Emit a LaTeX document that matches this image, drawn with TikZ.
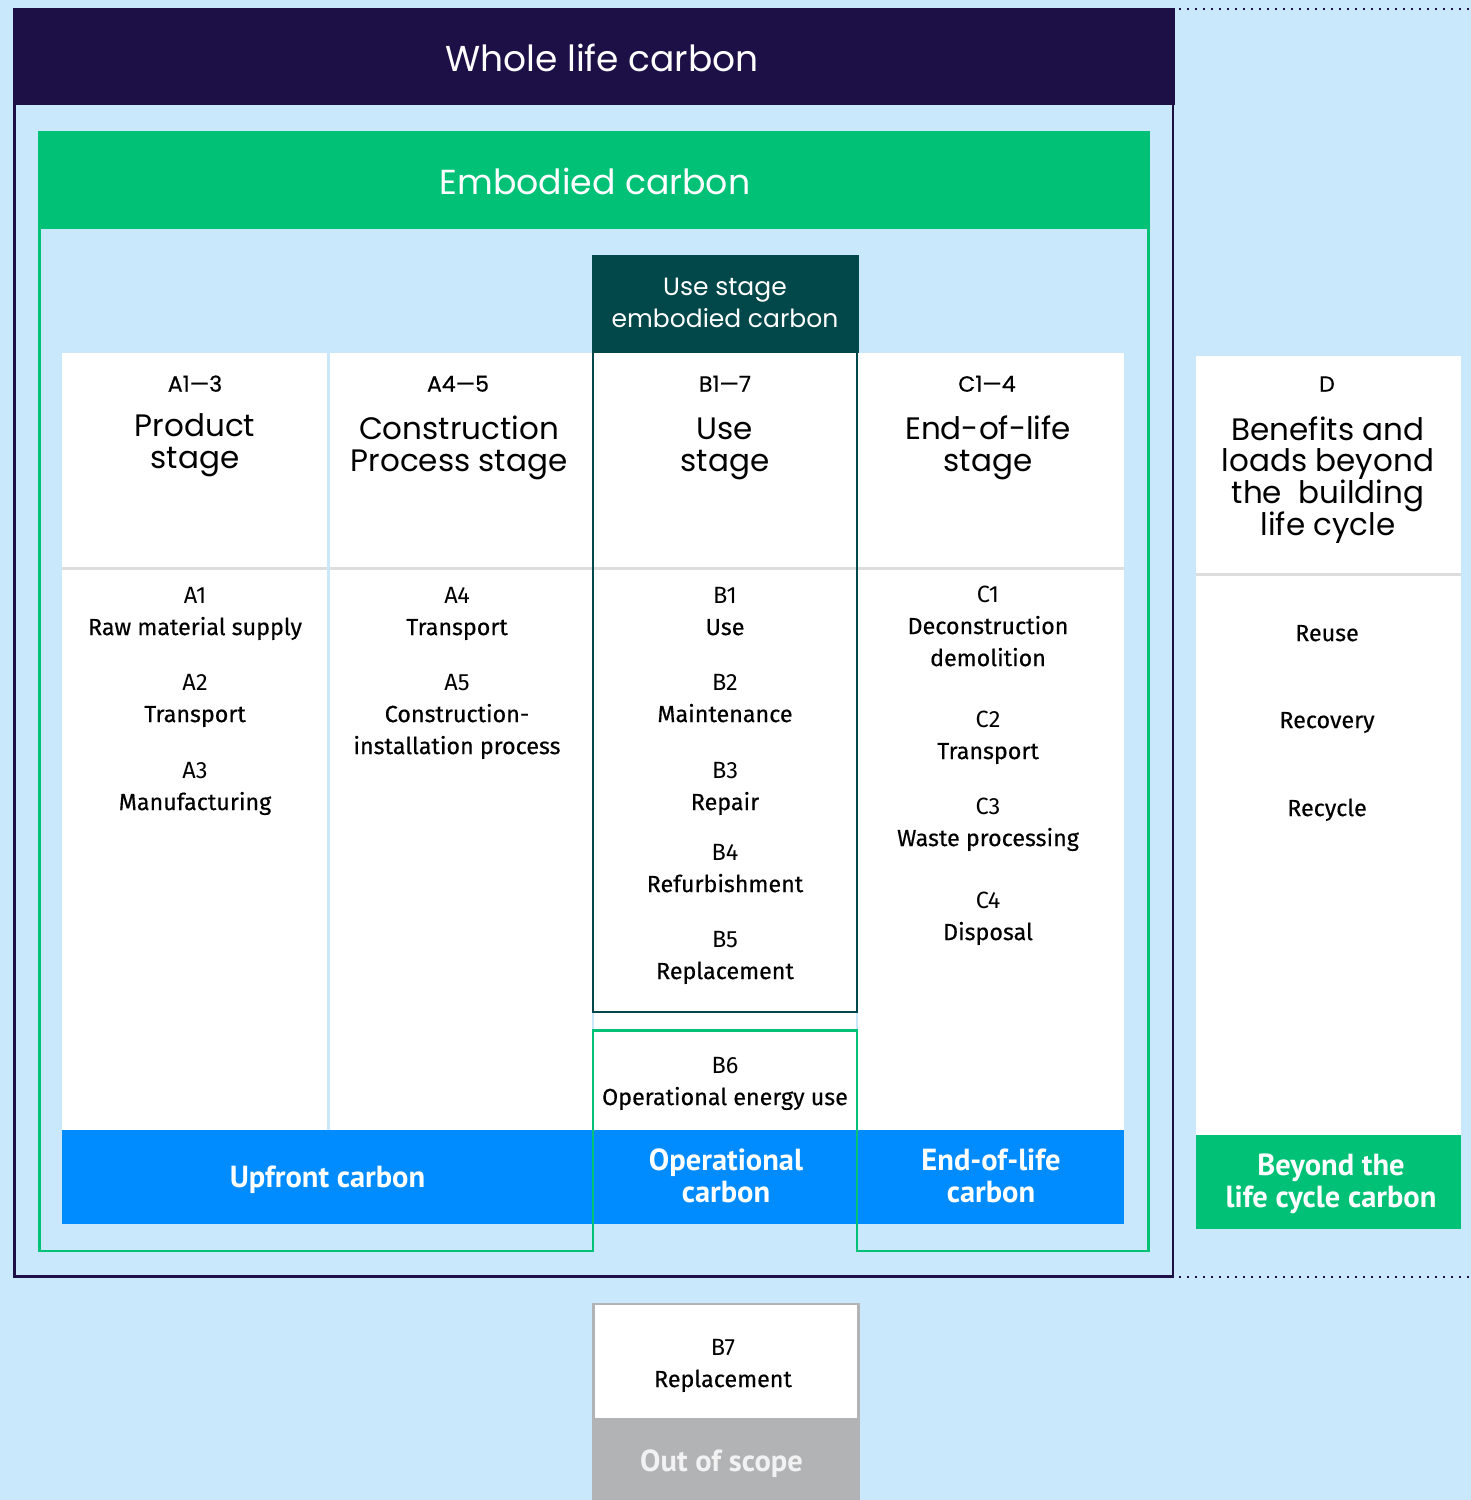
\documentclass[tikz,border=0pt]{standalone}
\usepackage{fontspec}
\setmainfont{Fira Sans}
\newfontfamily\hfont{Poppins}
\newfontfamily\hfontm{Poppins}[FakeBold=0.5]
\newfontfamily\lblfont{PT Sans}
\newfontfamily\medfont{Fira Sans}[FakeBold=0.4]
\definecolor{bgblue}{HTML}{C9E8FC}
\definecolor{navy}{HTML}{1D1046}
\definecolor{grn}{HTML}{00C176}
\definecolor{tealdk}{HTML}{02474A}
\definecolor{blu}{HTML}{008CFF}
\definecolor{sepgray}{HTML}{DDDDDD}
\definecolor{outgray}{HTML}{B2B3B5}
\definecolor{offwhite}{HTML}{F2F2F2}
\tikzset{
  txtbase/.style={inner sep=0pt, text depth=0pt, anchor=center, align=center},
  hbig/.style={txtbase, font=\hfont\fontsize{36}{40}\selectfont, text=white, text height=25pt},
  hbigb/.style={txtbase, font=\hfont\fontsize{34.7}{40}\selectfont, text=white, text height=24.2pt},
  hmid/.style={txtbase, font=\hfont\fontsize{25}{30}\selectfont, text=white, text height=17.5pt},
  stitle/.style={txtbase, font=\hfont\fontsize{31}{36}\selectfont, text height=21.7pt},
  scode/.style={txtbase, font=\hfontm\fontsize{22}{26}\selectfont, text height=15.4pt},
  codetxt/.style={txtbase, font=\fontsize{23.5}{28}\selectfont, text height=16.2pt},
  nametxt/.style={txtbase, font=\medfont\fontsize{23.3}{28}\selectfont, text height=16.1pt},
  bandtxt/.style={txtbase, font=\lblfont\bfseries\fontsize{30.5}{34}\selectfont, text=white, text height=21.3pt},
  colpanel/.style={fill=white},
  sepline/.style={draw=sepgray, line width=2.5pt},
  dotline/.style={draw=navy, line width=2pt, dash pattern=on 2pt off 6pt},
}
\begin{document}
\begin{tikzpicture}[x=1pt,y=-1pt]
\path[use as bounding box, fill=bgblue] (0,0) rectangle (1471,1500);

% whole life carbon
\fill[navy] (13,8) rectangle (1175,105);
\draw[navy, line width=2.6pt] (14.5,105) -- (14.5,1276.5) -- (1173,1276.5) -- (1173,105);
\coordinate (dt1) at (1179,9.3);
\coordinate (dt2) at (1471,9.3);
\coordinate (db1) at (1179,1276.7);
\coordinate (db2) at (1471,1276.7);
\draw[dotline] (dt1) -- (dt2);
\draw[dotline] (db1) -- (db2);
\node[hbig] (wlc) at (602,58.5) {Whole life carbon};

% embodied carbon header
\fill[grn] (38,131) rectangle (1150,229);
\node[hbigb] (emb) at (595,182.5) {Embodied carbon};

% column panels
\fill[colpanel] (62,353) rectangle (327,1130);
\fill[colpanel] (330,353) rectangle (592,1130);
\fill[colpanel] (594,353) rectangle (856,1130);
\fill[colpanel] (858,353) rectangle (1124,1130);
\draw[sepline] (62,568.7) -- (327,568.7);
\draw[sepline] (330,568.7) -- (592,568.7);
\draw[sepline] (594,568.7) -- (856,568.7);
\draw[sepline] (858,568.7) -- (1124,568.7);

% use stage embodied carbon
\fill[tealdk] (591.5,254.5) rectangle (859,353);
\draw[tealdk, line width=2.3pt] (593.2,353) -- (593.2,1012) -- (856.7,1012) -- (856.7,353);
\node[hmid] (us1) at (725,287) {Use stage};
\node[hmid] (us2) at (725,319) {embodied carbon};

% blue band
\fill[blu] (62,1130) rectangle (1124,1224);

% green outline
\draw[grn, line width=2.5pt] (39.5,229) -- (39.5,1251) -- (593.2,1251) -- (593.2,1030.5) -- (856.8,1030.5) -- (856.8,1251) -- (1148.3,1251) -- (1148.3,229);

\node[bandtxt] (up) at (327.5,1177) {Upfront carbon};
\node[bandtxt] (op1) at (726,1160) {Operational};
\node[bandtxt] (op2) at (726,1192) {carbon};
\node[bandtxt] (eol1) at (991,1160) {End-of-life};
\node[bandtxt] (eol2) at (991,1192) {carbon};

% D column
\fill[colpanel] (1196,356) rectangle (1461,1135);
\draw[sepline] (1196,574.3) -- (1461,574.3);
\fill[grn] (1196,1135) rectangle (1461,1228.5);
\node[bandtxt] (by1) at (1331,1165) {Beyond the};
\node[bandtxt] (by2) at (1331,1197) {life cycle carbon};

% B7
\fill[outgray] (592,1417) rectangle (860,1500);
\draw[outgray, line width=2.6pt, fill=white] (593.3,1418) -- (593.3,1304) -- (858.7,1304) -- (858.7,1418);
\node[bandtxt, text=offwhite] (oos) at (721.5,1461) {Out of scope};
\node[codetxt] (b7c) at (723,1347) {B7};
\node[nametxt] (b7n) at (723,1379) {Replacement};

% column 1
\node[scode] (h1) at (195,384) {A1—3};
\node[stitle] (t1a) at (195,426) {Product};
\node[stitle] (t1b) at (195,458) {stage};
\node[codetxt] (a1c) at (195,595) {A1};
\node[nametxt] (a1n) at (195,627) {Raw material supply};
\node[codetxt] (a2c) at (195,682) {A2};
\node[nametxt] (a2n) at (195,714) {Transport};
\node[codetxt] (a3c) at (195,770) {A3};
\node[nametxt] (a3n) at (195,802) {Manufacturing};

% column 2
\node[scode] (h2) at (458,384) {A4—5};
\node[stitle] (t2a) at (459,429) {Construction};
\node[stitle] (t2b) at (459,461) {Process stage};
\node[codetxt] (a4c) at (457,595) {A4};
\node[nametxt] (a4n) at (457,627) {Transport};
\node[codetxt] (a5c) at (457,682) {A5};
\node[nametxt] (a5n) at (457,714) {Construction-};
\node[nametxt] (a5m) at (457,746) {installation process};

% column 3
\node[scode] (h3) at (725,384) {B1—7};
\node[stitle] (t3a) at (725,429) {Use};
\node[stitle] (t3b) at (725,461) {stage};
\node[codetxt] (b1c) at (725,595) {B1};
\node[nametxt] (b1n) at (725,627) {Use};
\node[codetxt] (b2c) at (725,682) {B2};
\node[nametxt] (b2n) at (725,714) {Maintenance};
\node[codetxt] (b3c) at (725,770) {B3};
\node[nametxt] (b3n) at (725,802) {Repair};
\node[codetxt] (b4c) at (725,852) {B4};
\node[nametxt] (b4n) at (725,884) {Refurbishment};
\node[codetxt] (b5c) at (725,939) {B5};
\node[nametxt] (b5n) at (725,971) {Replacement};
\node[codetxt] (b6c) at (725,1065) {B6};
\node[nametxt] (b6n) at (725,1097) {Operational energy use};

% column 4
\node[scode] (h4) at (987,384) {C1—4};
\node[stitle] (t4a) at (988,429) {End-of-life};
\node[stitle] (t4b) at (988,461) {stage};
\node[codetxt] (c1c) at (988,594) {C1};
\node[nametxt] (c1n) at (988,626) {Deconstruction};
\node[nametxt] (c1m) at (988,658) {demolition};
\node[codetxt] (c2c) at (988,719.5) {C2};
\node[nametxt] (c2n) at (988,751) {Transport};
\node[codetxt] (c3c) at (988,806) {C3};
\node[nametxt] (c3n) at (988,838) {Waste processing};
\node[codetxt] (c4c) at (988,900) {C4};
\node[nametxt] (c4n) at (988,932) {Disposal};

% column D
\node[scode] (hd) at (1327,384) {D};
\node[stitle] (tda) at (1328,430) {Benefits and};
\node[stitle] (tdb) at (1328,461) {loads beyond};
\node[stitle] (tdc) at (1328,493) {the~\ building};
\node[stitle] (tdd) at (1328,525) {life cycle};
\node[nametxt] (d1) at (1327,633) {Reuse};
\node[nametxt] (d2) at (1327,720) {Recovery};
\node[nametxt] (d3) at (1327,808) {Recycle};
\end{tikzpicture}
\end{document}
